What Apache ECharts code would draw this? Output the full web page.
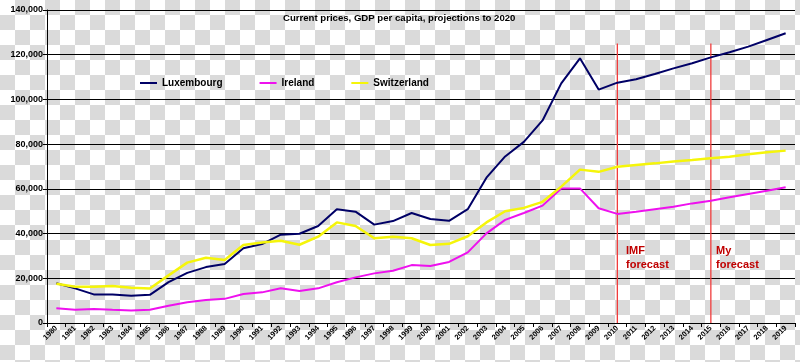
<!DOCTYPE html>
<html>
<head>
<meta charset="utf-8">
<script src="https://cdn.jsdelivr.net/npm/echarts@6/dist/echarts.min.js"></script>
<style>
html,body{margin:0;padding:0;}
body{width:800px;height:362px;background:#fff repeating-conic-gradient(#dadada 0 25%, #ffffff 0 50%) 0 0/30px 30px;}
#chart{width:800px;height:362px;}
</style>
</head>
<body>
<div id="chart"></div>
<script>
const years = [];
for (let y = 1980; y <= 2019; y++) years.push(String(y));

const luxembourg = [17800, 15500, 12800, 12800, 12200, 12600, 18300, 22400, 25000, 26400,
  33400, 35300, 39500, 39900, 43400, 50900, 49800, 44000, 45600, 49200,
  46500, 45700, 50900, 65000, 74500, 81000, 90600, 107200, 118400, 104400,
  107500, 109000, 111400, 113900, 116200, 118800, 121100, 123600, 126600, 129600];

const ireland = [6600, 5900, 6300, 5900, 5600, 5900, 7700, 9300, 10300, 10800,
  13000, 13700, 15500, 14300, 15500, 18200, 20400, 22200, 23400, 25900,
  25500, 27300, 31600, 40100, 46100, 49200, 52500, 60200, 60200, 51300,
  48800, 49800, 50900, 52000, 53500, 54700, 56200, 57700, 59200, 60700];

const switzerland = [17600, 16200, 16200, 16500, 15800, 15400, 21300, 27000, 29200, 28200,
  34900, 36000, 36800, 35000, 38600, 45000, 43400, 37900, 38600, 37900,
  34900, 35400, 38800, 45000, 50000, 51500, 54200, 61000, 68600, 67600,
  69900, 70700, 71400, 72200, 72900, 73700, 74400, 75500, 76400, 77100];

const forecastYears = ['2010', '2015'];
const forecastRange = [0, 125000];
const forecastLabels = ['IMF\nforecast', 'My\nforecast'];
const titleText = 'Current prices, GDP per capita, projections to 2020';

const chart = echarts.init(document.getElementById('chart'), null, {renderer: 'canvas'});
const FONT = 'Liberation Sans, Arial, sans-serif';

const forecastSeries = forecastYears.map((y, i) => ({
  name: 'forecast' + i, type: 'line', symbol: 'none', silent: true, z: 1,
  data: forecastRange.map(v => [y, v]),
  lineStyle: {color: '#f03c3c', width: 1.3, type: 'solid'},
  itemStyle: {color: '#f03c3c'}
}));

chart.setOption({
  backgroundColor: 'transparent',
  animation: false,
  grid: {left: 47, right: 5, top: 10, bottom: 39, containLabel: false},
  legend: {
    left: 135, top: 73,
    icon: 'rect', itemWidth: 17, itemHeight: 2, itemGap: 37,
    textStyle: {fontFamily: FONT, fontWeight: 'bold', fontSize: 10, color: '#000'},
    data: ['Luxembourg', 'Ireland', 'Switzerland']
  },
  xAxis: {
    type: 'category',
    data: years,
    boundaryGap: true,
    axisLine: {lineStyle: {color: '#000', width: 1}},
    axisTick: {show: true, length: 4, interval: 0, lineStyle: {color: '#000'}},
    axisLabel: {interval: 0, rotate: 45, margin: 4, fontFamily: FONT, fontWeight: 'bold', fontSize: 7.5, color: '#000'},
    splitLine: {show: false}
  },
  yAxis: {
    type: 'value',
    min: 0, max: 140000, interval: 20000,
    axisLine: {show: true, lineStyle: {color: '#000', width: 1}},
    axisTick: {show: true, length: 4, lineStyle: {color: '#000'}},
    axisLabel: {
      margin: 4, fontFamily: FONT, fontWeight: 'bold', fontSize: 9, color: '#000',
      formatter: v => v.toLocaleString('en-US')
    },
    splitLine: {show: true, lineStyle: {color: '#000', width: 1}}
  },
  graphic: [
    {type: 'text', left: 399 - 116, top: 13, style: {text: titleText, font: 'bold 9.6px ' + FONT, fill: '#000'}},
    {type: 'text', left: 626, top: 244, style: {text: forecastLabels[0], font: 'bold 11px ' + FONT, fill: '#c00000', lineHeight: 14}},
    {type: 'text', left: 716, top: 244, style: {text: forecastLabels[1], font: 'bold 11px ' + FONT, fill: '#c00000', lineHeight: 14}}
  ],
  series: forecastSeries.concat([
    {
      name: 'Luxembourg', type: 'line', data: luxembourg, symbol: 'none', z: 3,
      lineStyle: {color: '#000066', width: 2}, itemStyle: {color: '#000066'}
    },
    {
      name: 'Ireland', type: 'line', data: ireland, symbol: 'none', z: 3,
      lineStyle: {color: '#ee11ee', width: 2}, itemStyle: {color: '#ee11ee'}
    },
    {
      name: 'Switzerland', type: 'line', data: switzerland, symbol: 'none', z: 3,
      lineStyle: {color: '#f5f50a', width: 2.5}, itemStyle: {color: '#f5f50a'}
    }
  ])
});
</script>
</body>
</html>
